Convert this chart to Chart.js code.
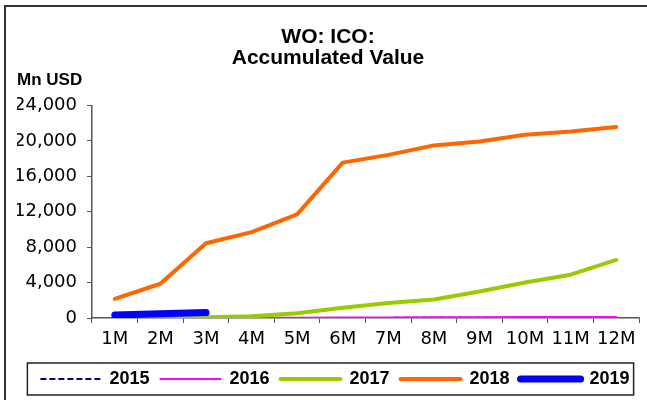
<!DOCTYPE html>
<html>
<head>
<meta charset="utf-8">
<script src="https://cdn.jsdelivr.net/npm/chart.js@4/dist/chart.umd.min.js"></script>
<style>
  html, body { margin: 0; padding: 0; background: #fff; }
  #wrap { width: 647px; height: 400px; }
</style>
</head>
<body>
<div id="wrap"><canvas id="icoChart" width="647" height="400"></canvas></div>
<script>
// months since start of year
const months = ["1M", "2M", "3M", "4M", "5M", "6M", "7M", "8M", "9M", "10M", "11M", "12M"];

// accumulated ICO value, Mn USD
const ico2015 = [2, 4, 6, 8, 10, 12, 14, 16, 18, 20, 22, 24];
const ico2016 = [5, 10, 20, 30, 40, 55, 70, 80, 90, 100, 110, 120];
const ico2017 = [10, 30, 80, 200, 530, 1170, 1700, 2080, 2990, 4020, 4890, 6560];
const ico2018 = [2160, 3870, 8450, 9700, 11700, 17550, 18430, 19500, 19950, 20700, 21080, 21580];
const ico2019 = [330, 480, 610];

const yTicks = [0, 4000, 8000, 12000, 16000, 20000, 24000];

const sansBold = "'Liberation Sans', Arial, sans-serif";
const tickFont = "'DejaVu Sans', sans-serif";

// outer frame (left + top edges) and the box round the legend
const framePlugin = {
    id: "framePlugin",
    afterLayout(chart) {
        // legend sits a little right of centre in the original
        chart.legend.left += 7;
        chart.legend.right += 7;
    },
    afterDraw(chart) {
        const ctx = chart.ctx;
        ctx.save();
        ctx.strokeStyle = "#333";
        ctx.lineWidth = 2;
        ctx.beginPath();
        ctx.moveTo(5, chart.height);
        ctx.lineTo(5, 6);
        ctx.lineTo(chart.width, 6);
        ctx.stroke();

        const boxes = chart.legend.legendHitBoxes;
        if (boxes && boxes.length) {
            const left = Math.min(...boxes.map(b => b.left)) - 13;
            const right = Math.max(...boxes.map(b => b.left + b.width)) + 4;
            const top = Math.min(...boxes.map(b => b.top)) - 7;
            const bottom = Math.max(...boxes.map(b => b.top + b.height)) + 7;
            ctx.lineWidth = 1.5;
            ctx.strokeStyle = "#222";
            ctx.strokeRect(left, top, right - left, bottom - top);
        }
        ctx.restore();
    }
};

const ctx = document.getElementById("icoChart").getContext("2d");
new Chart(ctx, {
    type: "line",
    data: {
        labels: months,
        datasets: [
            {
                label: "2015",
                data: ico2015,
                borderColor: "#000080",
                borderWidth: 2,
                borderDash: [6, 3],
                borderCapStyle: "butt",
                order: 4
            },
            {
                label: "2016",
                data: ico2016,
                borderColor: "#ff00ff",
                borderWidth: 2,
                order: 3
            },
            {
                label: "2017",
                data: ico2017,
                borderColor: "#99cc00",
                borderWidth: 4,
                order: 2
            },
            {
                label: "2018",
                data: ico2018,
                borderColor: "#ff6600",
                borderWidth: 4,
                order: 1
            },
            {
                label: "2019",
                data: ico2019,
                borderColor: "#0000ff",
                borderWidth: 7,
                order: 0
            }
        ]
    },
    options: {
        responsive: false,
        animation: false,
        elements: {
            point: { radius: 0, hoverRadius: 0 },
            line: { tension: 0, fill: false, borderCapStyle: "round", borderJoinStyle: "round" }
        },
        layout: {
            padding: { left: 17, right: 8, top: 0, bottom: 2 }
        },
        plugins: {
            title: {
                display: true,
                text: ["WO: ICO:", "Accumulated Value"],
                color: "#000",
                font: { family: sansBold, size: 21, weight: "bold", lineHeight: 1.0 },
                padding: { top: 27, bottom: 0 }
            },
            subtitle: {
                display: true,
                text: "Mn USD",
                align: "start",
                color: "#000",
                font: { family: sansBold, size: 17, weight: "bold", lineHeight: 1.15 },
                padding: { top: 2, bottom: 15 }
            },
            legend: {
                position: "bottom",
                labels: {
                    color: "#000",
                    font: { family: sansBold, size: 18, weight: "bold" },
                    usePointStyle: true,
                    pointStyle: "line",
                    pointStyleWidth: 60,
                    padding: 11,
                    sort: (a, b) => a.datasetIndex - b.datasetIndex,
                    generateLabels: (chart) => {
                        const items = Chart.defaults.plugins.legend.labels.generateLabels(chart);
                        items.forEach((it) => {
                            const ds = chart.data.datasets[it.datasetIndex];
                            it.strokeStyle = ds.borderColor;
                            it.lineWidth = ds.borderWidth;
                            it.lineDash = ds.borderDash || [];
                            it.lineCap = ds.borderDash ? "butt" : "round";
                        });
                        return items;
                    }
                }
            },
            tooltip: { enabled: false }
        },
        scales: {
            x: {
                offset: true,
                grid: {
                    offset: true,
                    drawOnChartArea: false,
                    drawTicks: true,
                    tickLength: 5,
                    color: "#555"
                },
                border: { color: "#555", width: 1.5 },
                ticks: {
                    color: "#000",
                    font: { family: tickFont, size: 18 },
                    padding: 6,
                    maxRotation: 0,
                    autoSkip: false
                },
                afterFit: (scale) => { scale.height = 41; }
            },
            y: {
                min: 0,
                max: 24000,
                afterBuildTicks: (scale) => { scale.ticks = yTicks.map(v => ({ value: v })); },
                grid: {
                    drawOnChartArea: false,
                    drawTicks: true,
                    tickLength: 5,
                    color: "#555"
                },
                border: { color: "#555", width: 1.5 },
                ticks: {
                    color: "#000",
                    font: { family: tickFont, size: 18 },
                    padding: 10,
                    callback: (v) => v.toLocaleString("en-US")
                },
                afterFit: (scale) => { scale.width = 75; }
            }
        }
    },
    plugins: [framePlugin]
});
</script>
</body>
</html>
